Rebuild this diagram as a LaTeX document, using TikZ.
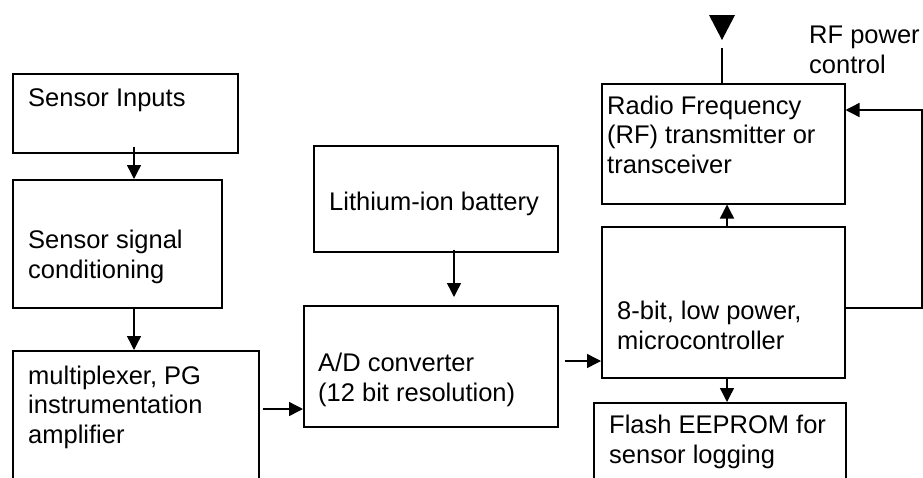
\documentclass[tikz,border=0pt]{standalone}
\usepackage{fontspec}
\setmainfont{Liberation Sans}
\usetikzlibrary{arrows.meta}
\tikzset{
  blk/.style={draw,line width=1.5pt,inner sep=0pt,anchor=north west},
  lbl/.style={anchor=base west,align=left,inner sep=0pt,font=\fontsize{25.5}{29.5}\selectfont},
  wire/.style={line width=1.4pt},
  conn/.style={wire,-{Triangle[length=14pt,width=14pt]}}
}
\begin{document}
\begin{tikzpicture}[x=1pt,y=-1pt]
\useasboundingbox (0,0) rectangle (923,477);
\clip (0,0) rectangle (923,477);
\node[blk,minimum width=225,minimum height=79] (inputs) at (12,73) {};
\node[blk,minimum width=209,minimum height=128] (cond) at (12,179) {};
\node[blk,minimum width=246,minimum height=160] (mux) at (12,350) {};
\node[blk,minimum width=244,minimum height=106] (bat) at (313,145) {};
\node[blk,minimum width=254,minimum height=121] (adc) at (303,305) {};
\node[blk,minimum width=243,minimum height=120] (rf) at (601,83) {};
\node[blk,minimum width=243,minimum height=151] (mcu) at (601,226) {};
\node[blk,minimum width=252,minimum height=110] (flash) at (593,402) {};
\node[lbl] (inputs-t) at (28,106) {Sensor Inputs};
\node[lbl] (cond-t) at (28,278) {Sensor signal\\conditioning};
\node[lbl] (mux-t) at (28,443) {multiplexer, PG\\instrumentation\\amplifier};
\node[lbl] (bat-t) at (329,210) {Lithium-ion battery};
\node[lbl] (adc-t) at (318,401) {A/D converter\\(12 bit resolution)};
\node[lbl] (rf-t) at (607,173) {Radio Frequency\\(RF) transmitter or\\transceiver};
\node[lbl] (mcu-t) at (617,349) {8-bit, low power,\\microcontroller};
\node[lbl] (flash-t) at (609,463) {Flash EEPROM for\\sensor logging};
\node[lbl] (pwr-t) at (809,73) {RF power\\control};
\draw[conn] ([xshift=122pt,yshift=7pt]inputs.south west) -- ([xshift=122pt]cond.north west);
\draw[conn] ([xshift=122pt]cond.south west) -- ([xshift=122pt]mux.north west);
\draw[conn] ([xshift=141pt,yshift=3pt]bat.south west) -- ([xshift=151pt,yshift=8pt]adc.north west);
\coordinate (m1) at ([shift={(3pt,-59pt)}]mux.north east);
\draw[conn] (m1) -- (m1 -| adc.west);
\coordinate (a1) at ([shift={(6pt,-56pt)}]adc.north east);
\draw[conn] (a1) -- (a1 -| mcu.west);
\draw[conn] ([xshift=126pt]mcu.north west) -- ([xshift=126pt]rf.south west);
\draw[conn] ([xshift=126pt]mcu.south west) -- ([xshift=134pt]flash.north west);
\draw[wire] ([xshift=121pt]rf.north west) -- ++(0,-35) coordinate (ant);
\fill (ant) ++(0,-8) -- ++(-13,-25) -- ++(26,0) -- cycle;
\coordinate (f1) at ([yshift=-82pt]mcu.north east);
\coordinate (fb) at (922,110);
\draw[conn] (f1) -| (fb) -- (fb -| rf.east);
\end{tikzpicture}
\end{document}
